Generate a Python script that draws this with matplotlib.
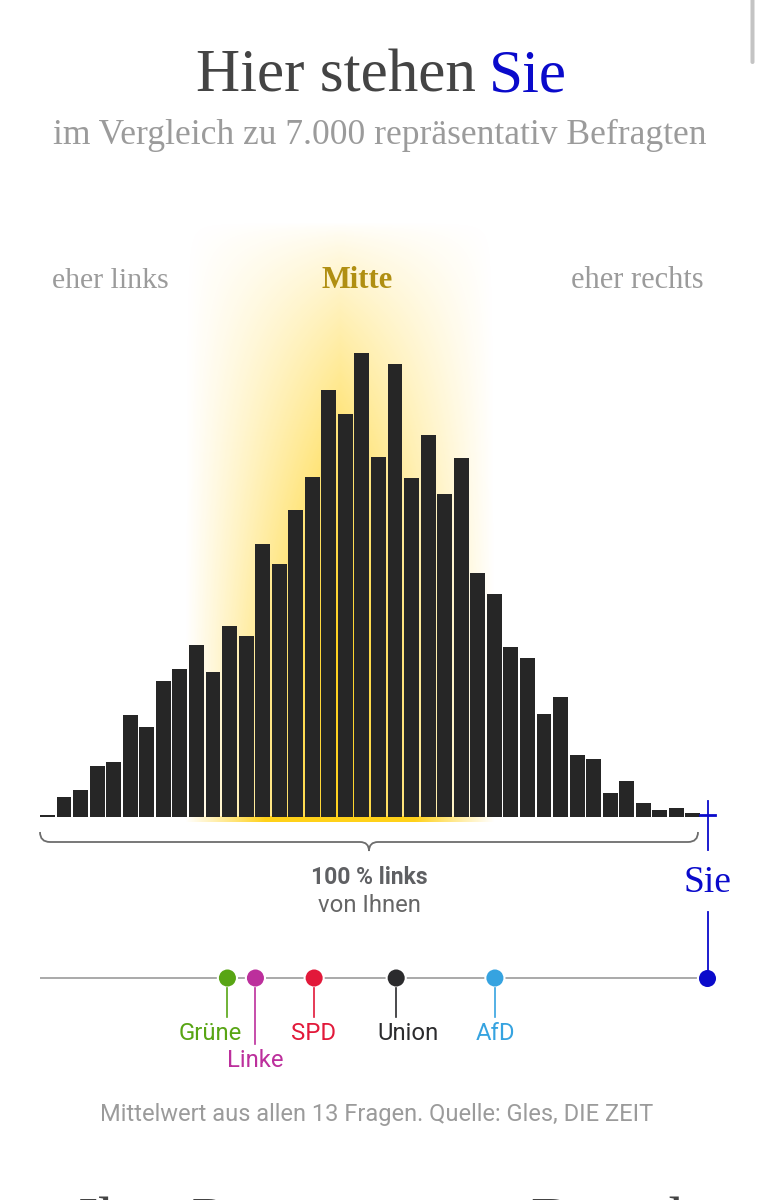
import numpy as np
import matplotlib.pyplot as plt
from matplotlib.path import Path
from matplotlib.patches import PathPatch, FancyBboxPatch

# bar heights
haeufigkeit = [2.7, 20.7, 27.7, 51.3, 55, 102, 90.7, 136.3, 148.7, 172.7,
               145, 191.7, 181.3, 273.7, 253, 307, 340, 427, 403, 464.7,
               360.7, 453.3, 339, 382, 323.7, 359, 244.7, 223, 170.7, 159.7,
               103, 120.3, 62, 58.7, 24.3, 36.7, 14, 7.7, 9.7, 4.7]

parteien = ["Grüne", "Linke", "SPD", "Union", "AfD"]
partei_werte = [28.1, 32.3, 41.1, 53.4, 68.2]
partei_farben = ["#58a514", "#bc2f9c", "#e2193a", "#2b2b2d", "#36a3e0"]
sie_wert = 100

dunkel = "#262626"
blau = "#0a0acb"
grau = "#9b9b9b"
serif = "Liberation Serif"
sans = "Roboto"

W, H = 760, 1200
fig = plt.figure(figsize=(W / 100, H / 100), dpi=100, facecolor="white")


def achse(x0, x1, y0, y1, z):
    # axes placed by pixel box, y counted from the top
    a = fig.add_axes([x0 / W, 1 - y1 / H, (x1 - x0) / W, (y1 - y0) / H], zorder=z)
    a.axis("off")
    return a


# glow behind the bars
ax_glow = achse(185, 495, 222, 822, 1)
xx, yy = np.meshgrid(np.linspace(-1, 1, 310), np.linspace(0, 1, 600))
fx = np.clip(1 - np.abs(xx), 0, 1) ** 1.05
fy = np.clip(yy / 0.7, 0, 1) ** 0.75
alpha = np.clip(fx * fy, 0, 1)
alpha[-6:] = np.clip(fx[-6:] * 2, 0, 1)
glow = np.ones((600, 310, 4))
glow[..., 1] = 0.82
glow[..., 2] = 0.1
glow[..., 3] = alpha
ax_glow.imshow(glow, aspect="auto", interpolation="bilinear")

# histogram
ax = achse(39.2, 701.2, 300, 817.3, 2)
ax.bar(range(len(haeufigkeit)), haeufigkeit, width=0.9, color=dunkel)
ax.set_xlim(-0.5, len(haeufigkeit) - 0.5)
ax.set_ylim(0, 517.3)

# party scale
ax_s = achse(40, 707, 960, 996, 3)
ax_s.set_xlim(0, 100)
ax_s.set_ylim(0, 1)
ax_s.plot([0, sie_wert], [0.5, 0.5], color="#a3a3a3", lw=1.3, solid_capstyle="butt", zorder=1)
ax_s.scatter(partei_werte, [0.5] * 5, s=190, c=partei_farben, edgecolors="white", linewidths=1.5, zorder=3, clip_on=False)
ax_s.scatter([sie_wert], [0.5], s=190, c=blau, edgecolors="white", linewidths=1.5, zorder=3, clip_on=False)

# pixel overlay for labels, stems, bracket
ov = achse(0, W, 0, H, 4)
ov.set_xlim(0, W)
ov.set_ylim(H, 0)

ov.text(476, 92, "Hier stehen", family=serif, fontsize=44, color="#444444", ha="right", va="baseline")
ov.text(489, 92, "Sie", family=serif, fontsize=44, color=blau, ha="left", va="baseline")
ov.text(379.5, 144, "im Vergleich zu 7.000 repräsentativ Befragten", family=serif, fontsize=25.6, color=grau, ha="center", va="baseline")
ov.text(110, 288, "eher links", family=serif, fontsize=21.5, color=grau, ha="center", va="baseline")
ov.text(357, 288, "Mitte", family=serif, fontsize=22, color="#b08f12", ha="center", va="baseline", weight="bold")
ov.text(637, 288, "eher rechts", family=serif, fontsize=22, color=grau, ha="center", va="baseline")

# bracket
bracket = Path(
    [(40, 832), (40, 842), (50, 842), (360, 842), (369, 842), (369, 851), (369, 842), (378, 842),
     (688, 842), (698, 842), (698, 832)],
    [Path.MOVETO, Path.CURVE3, Path.CURVE3, Path.LINETO, Path.CURVE3, Path.CURVE3, Path.CURVE3, Path.CURVE3,
     Path.LINETO, Path.CURVE3, Path.CURVE3],
)
ov.add_patch(PathPatch(bracket, fc="none", ec="#6d6d6d", lw=1.3))

ov.text(369.5, 884, "100 % links", family=sans, fontsize=16.5, color="#5f6063", ha="center", va="baseline", weight="bold")
ov.text(369, 912, "von Ihnen", family=sans, fontsize=17.2, color="#666666", ha="center", va="baseline")

# Sie marker
ov.plot([707.5, 707.5], [801, 850], color=blau, lw=1.3)
ov.plot([700, 715], [815, 815], color=blau, lw=2)
ov.plot([707.5, 707.5], [912, 970], color=blau, lw=1.3)
ov.text(707, 892, "Sie", family=serif, fontsize=27, color=blau, ha="center", va="baseline")

# party stems and labels
stem_ende = [1017, 1044, 1017, 1017, 1017]
label_x = [210.5, 255, 313, 408, 495]
label_y = [1040, 1067, 1040, 1040, 1040]
for wert, name, farbe, ende, lx, ly in zip(partei_werte, parteien, partei_farben, stem_ende, label_x, label_y):
    px = 40 + wert / 100 * 667
    ov.plot([px, px], [988, ende], color=farbe, lw=1.2)
    ov.text(lx, ly, name, family=sans, fontsize=17.2, color=farbe, ha="center", va="baseline")

ov.text(377, 1121, "Mittelwert aus allen 13 Fragen. Quelle: Gles, DIE ZEIT", family=sans, fontsize=17, color=grau, ha="center", va="baseline")

# next heading, only the tops show at the lower edge
ov.text(78, 1239, "Ihre P", family=serif, fontsize=44, color="#444444", ha="left", va="baseline")
ov.text(530, 1239, "D", family=serif, fontsize=44, color="#444444", ha="left", va="baseline")
ov.text(668, 1239, "h", family=serif, fontsize=44, color="#444444", ha="left", va="baseline")

# scrollbar top right
ov.add_patch(FancyBboxPatch((750.5, -6), 4, 70, boxstyle="round,pad=0,rounding_size=2", fc="#c4c4c4", ec="none"))

fig.savefig("out.png", dpi=100)
